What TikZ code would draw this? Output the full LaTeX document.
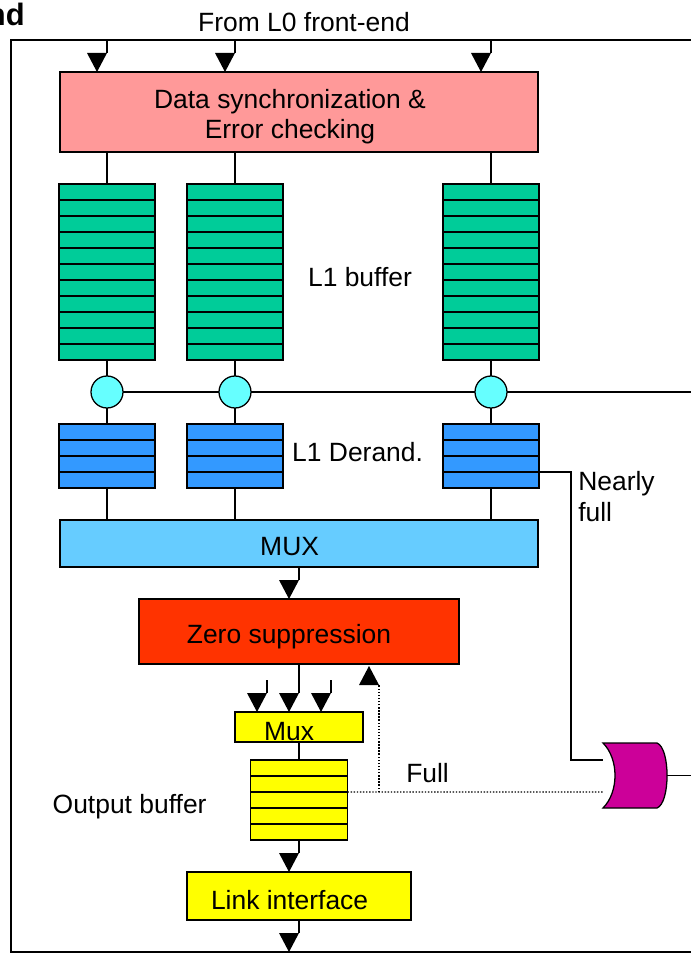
\documentclass[tikz,border=0pt]{standalone}
\usepackage{fontspec}
\setmainfont{Liberation Sans}
\usetikzlibrary{calc,positioning}

\definecolor{SyncPink}{RGB}{255,153,153}
\definecolor{BufGreen}{RGB}{0,204,153}
\definecolor{TapCyan}{RGB}{102,255,255}
\definecolor{DerandBlue}{RGB}{51,153,255}
\definecolor{MuxBlue}{RGB}{102,204,255}
\definecolor{ZeroRed}{RGB}{255,51,0}
\definecolor{OutYellow}{RGB}{255,255,0}
\definecolor{GateMagenta}{RGB}{204,0,153}

\tikzset{
  blk/.style={draw=black,line width=0.9pt,inner sep=0pt,outer sep=0pt},
  syncbox/.style={blk,fill=SyncPink,minimum width=11.95cm,minimum height=2cm},
  bufbox/.style={blk,fill=BufGreen,minimum width=2.4cm,minimum height=4.4cm},
  derbox/.style={blk,fill=DerandBlue,minimum width=2.4cm,minimum height=1.6cm},
  bustap/.style={blk,circle,fill=TapCyan,minimum size=0.8cm},
  muxbox/.style={blk,fill=MuxBlue,minimum width=11.95cm,minimum height=1.175cm},
  zsbox/.style={blk,fill=ZeroRed,minimum width=8cm,minimum height=1.625cm},
  ybox/.style={blk,fill=OutYellow},
  lbl/.style={font=\fontsize{18.8}{22}\selectfont,inner sep=0pt,
              text height=13.46pt,text depth=0pt},
  lbl2/.style={font=\fontsize{18.8}{21}\selectfont,inner sep=0pt},
  wire/.style={line width=0.9pt},
  fullsig/.style={line width=1pt,dash pattern=on 1pt off 1.2pt},
  boardline/.style={line width=1.2pt},
  pics/tipdown/.style={code={\fill[black] (0,0) -- (-0.5,0) -- (-0.25,-0.475) -- cycle;}},
  pics/tipup/.style={code={\fill[black] (0,0) -- (-0.5,0) -- (-0.25,0.475) -- cycle;}},
}

\begin{document}
\begin{tikzpicture}
  \useasboundingbox (0,0) rectangle (17.25,-23.825);

  % board outline, runs on past the right edge
  \draw[boardline] (18,-1) -- (0.275,-1) -- (0.275,-23.8) -- (18,-23.8);
  \node[font=\fontsize{22}{26}\selectfont\bfseries,anchor=base east,inner sep=0pt] (corner) at (0.625,-0.65) {nd};
  \node[lbl] (from) at (7.6,-0.54) {From L0 front-end};

  % sync + error check
  \node[syncbox] (sync) at (7.475,-2.8) {};
  \node[lbl2,align=center] (synctxt) at (7.25,-2.92) {Data synchronization \&\\Error checking};

  \node[muxbox] (mux) at (7.475,-13.5875) {};
  \node[lbl] (muxtxt) at (7.24,-13.66) {MUX};

  % the three channels: L1 buffer, tap, derandomizer
  \foreach \i/\x in {1/2.675,2/5.875,3/12.275} {
    \coordinate (in\i) at (\x,-1);
    \draw[wire] (in\i) -- ($(sync.north -| in\i)+(0,0.475)$) pic{tipdown};
    \node[bufbox] (buf\i) at (\x,-6.8) {};
    \foreach \k in {1,...,10}
      \draw[wire] ([yshift=-\k*0.4cm]buf\i.north west) -- ([yshift=-\k*0.4cm]buf\i.north east);
    \node[bustap] (tap\i) at (\x,-9.8) {};
    \node[derbox] (der\i) at (\x,-11.4) {};
    \foreach \k in {1,2,3}
      \draw[wire] ([yshift=-\k*0.4cm]der\i.north west) -- ([yshift=-\k*0.4cm]der\i.north east);
    \draw[wire] (sync.south -| buf\i) -- (buf\i.north);
    \draw[wire] (buf\i.south) -- (tap\i.north);
    \draw[wire] (tap\i.south) -- (der\i.north);
    \draw[wire] (der\i.south) -- (mux.north -| der\i);
  }
  \node[lbl] (buftxt) at (9.0,-6.93) {L1 buffer};
  \node[lbl] (dertxt) at (8.94,-11.31) {L1 Derand.};

  % bus through the taps
  \coordinate (busend) at (18,-9.8);
  \draw[wire] (tap1.east) -- (tap2.west) (tap2.east) -- (tap3.west) (tap3.east) -- (busend);

  % zero suppression
  \node[zsbox] (zs) at (7.475,-15.7875) {};
  \node[lbl] (zstxt) at (7.225,-15.86) {Zero suppression};
  \draw[wire] (mux.south) -- ($(zs.north)+(0,0.475)$) pic{tipdown};

  % output mux, buffer and link
  \node[ybox,minimum width=3.2cm,minimum height=0.75cm] (smux) at (7.475,-18.175) {};
  \node[lbl] (smuxtxt) at (7.225,-18.28) {Mux};
  \coordinate (feedL) at (6.675,-17);
  \coordinate (feedR) at (8.275,-17);
  \draw[wire] (zs.south) -- ($(smux.north)+(0,0.475)$) pic{tipdown};
  \draw[wire] (feedL) -- ($(smux.north -| feedL)+(0,0.475)$) pic{tipdown};
  \draw[wire] (feedR) -- ($(smux.north -| feedR)+(0,0.475)$) pic{tipdown};

  \node[ybox,minimum width=2.425cm,minimum height=2cm] (obuf) at (7.475,-20) {};
  \foreach \k in {1,...,4}
    \draw[wire] ([yshift=-\k*0.4cm]obuf.north west) -- ([yshift=-\k*0.4cm]obuf.north east);
  \node[lbl] (obuftxt) at (3.24,-20.11) {Output buffer};
  \draw[wire] (smux.south) -- (obuf.north);

  \node[ybox,minimum width=5.6cm,minimum height=1.2cm] (link) at (7.475,-22.4) {};
  \node[lbl] (linktxt) at (7.24,-22.49) {Link interface};
  \coordinate (outB) at (7.475,-23.8);
  \draw[wire] (obuf.south) -- ($(link.north)+(0,0.475)$) pic{tipdown};
  \draw[wire] (link.south) -- ($(outB)+(0,0.475)$) pic{tipdown};

  % OR of nearly full / full
  \node[minimum width=1.6cm,minimum height=1.625cm,inner sep=0pt,outer sep=0pt] (orgate) at (15.875,-19.3875) {};
  \filldraw[fill=GateMagenta,line width=0.9pt]
    (orgate.north west) -- ([xshift=-0.25cm]orgate.north east)
    .. controls ([xshift=0.085cm,yshift=-0.125cm]orgate.north east) and ([xshift=0.085cm,yshift=0.125cm]orgate.south east) .. ([xshift=-0.25cm]orgate.south east)
    -- (orgate.south west)
    .. controls ([xshift=0.4cm,yshift=0.4cm]orgate.south west) and ([xshift=0.4cm,yshift=-0.4cm]orgate.north west) .. cycle;
  \coordinate (gin1) at ([yshift=0.3875cm]orgate.west);
  \coordinate (gin2) at ([yshift=-0.4125cm]orgate.west);
  \coordinate (gateout) at (18,-19.3875);
  \draw[wire] (orgate.east) -- (gateout);

  \draw[wire] ([yshift=-1.2cm]der3.north east) -| ([xshift=-0.8cm]gin1) -- (gin1);
  \node[lbl2,font=\fontsize{18.8}{22.5}\selectfont,align=left,anchor=west] (nftxt) at (14.45,-12.41) {Nearly\\full};

  \coordinate (fulltap) at (9.475,-19.8);
  \draw[fullsig] ([yshift=-0.8cm]obuf.north east) -- (gin2);
  \draw[fullsig] (fulltap) -- ($(zs.south -| fulltap)+(0,-0.525)$) pic{tipup};
  \node[lbl,anchor=west] (fulltxt) at (10.15,-19.33) {Full};
\end{tikzpicture}
\end{document}
